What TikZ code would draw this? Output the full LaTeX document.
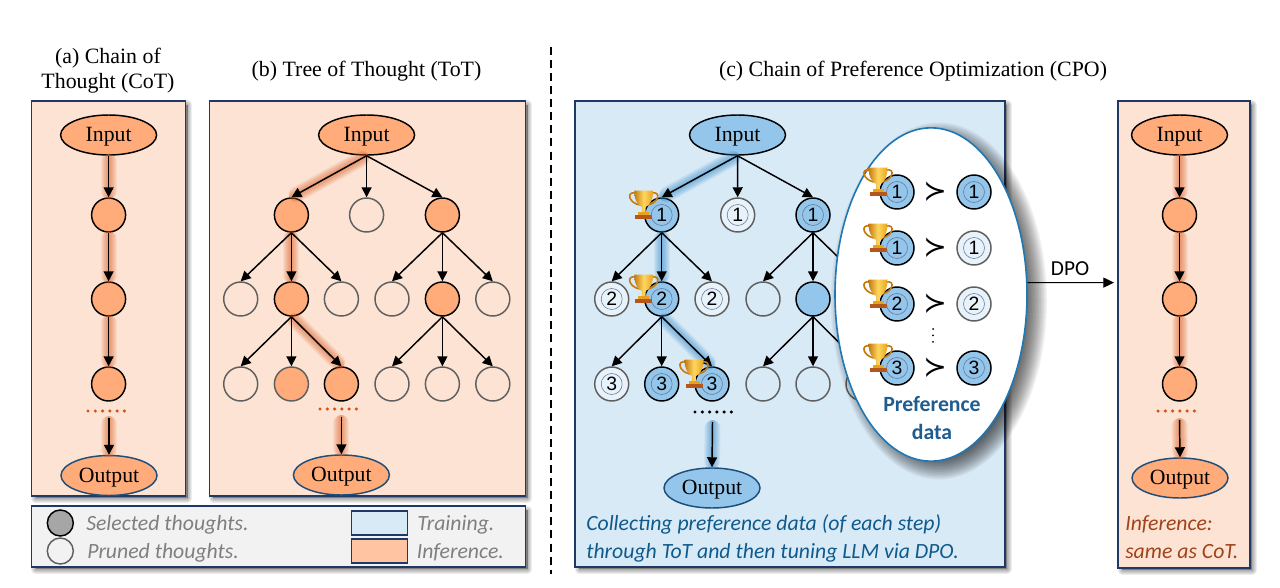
\documentclass[tikz,border=0pt]{standalone}
\usepackage{fontspec}
\setmainfont{Liberation Serif}
\newfontfamily\calib{Carlito}
\newfontfamily\helv{Liberation Sans}
\newfontfamily\symf{DejaVu Sans}
\usetikzlibrary{arrows.meta,shapes.geometric,calc}
\definecolor{orfill}{HTML}{FFAB7A}
\definecolor{orpanel}{HTML}{FDE3D3}
\definecolor{orglow}{HTML}{D9581C}
\definecolor{blfill}{HTML}{93C6EA}
\definecolor{blpanel}{HTML}{D9EAF7}
\definecolor{blglow}{HTML}{2E86C8}
\definecolor{frame}{HTML}{1F3864}
\definecolor{outedge}{HTML}{1F4E79}
\definecolor{prunedge}{HTML}{5F5F5F}
\definecolor{legbg}{HTML}{F2F2F2}
\definecolor{txtgray}{HTML}{7F7F7F}
\definecolor{txtblue}{HTML}{0F5A8C}
\definecolor{txtbrown}{HTML}{A0421A}
\definecolor{prefblue}{HTML}{1F5C8F}
\definecolor{ellblue}{HTML}{1F78B4}
\definecolor{dotor}{HTML}{D9500F}
\definecolor{golddark}{HTML}{C47A10}
\definecolor{goldmid}{HTML}{E8A21E}
\definecolor{goldlight}{HTML}{FFD760}
\definecolor{goldbase}{HTML}{B5561A}
\newcommand{\lw}[1]{\raisebox{-5.2pt}[0pt][0pt]{#1}}
\tikzset{
  x=.75pt,y=-.75pt,
  txt/.style={inner sep=0pt,font=\fontsize{16.3pt}{18pt}\selectfont},
  title/.style={inner sep=0pt,align=center,font=\fontsize{16.4pt}{18.8pt}\selectfont},
  note/.style={inner sep=0pt,anchor=west,font=\calib\itshape\fontsize{16.3pt}{18pt}\selectfont},
  endpt/.style={ellipse,minimum width=72pt,minimum height=30pt,inner sep=0pt,draw=black,line width=1.1pt,txt},
  outpt/.style={endpt,draw=outedge},
  thought/.style={circle,minimum size=25.5pt,inner sep=0pt,line width=1.1pt},
  sel/.style={thought,draw=black},
  pru/.style={thought,draw=prunedge,line width=1.1pt},
  conn/.style={line width=1.1pt,-{Triangle[length=7.5pt,width=7.5pt]},black},
  dotline/.style={line width=2.6pt,line cap=round,dash pattern=on 0pt off 5.45pt},
  ring/.style={draw=frame!70,line width=.4pt},
}
% blurred connector glow
\newcommand{\glowline}[3]{\foreach \w in {16,14,12,10,8,6,4,2}{\draw[#3,line width=\w*.75pt,opacity=.085,line cap=round,
   shorten <=\w*.375pt-1.5pt,shorten >=\w*.375pt-1.5pt] (#1) -- (#2);}}
% framed panel with soft drop shadow
\newcommand{\panel}[5]{%
  \foreach \w in {9,7,5,3,1}{\draw[black,fill=black,opacity=.07,line width=\w*.75pt,line join=round]
     ({#1+4},{#2+4}) rectangle ({#3+2},{#4+2});}
  \draw[frame,fill=#5,line width=1.2pt] (#1,#2) rectangle (#3,#4);}
% trophy
\tikzset{trophy/.pic={
  \draw[golddark,line width=1.2pt] (-8,-12) .. controls (-18,-14) and (-15,-2) .. (-4,0);
  \draw[golddark,line width=1.2pt] (8,-12) .. controls (18,-14) and (15,-2) .. (4,0);
  \shade[left color=golddark,right color=goldmid,middle color=goldlight]
     (-9.5,-14.5) -- (9.5,-14.5) .. controls (9.5,-4) and (5,1) .. (1.8,2) -- (1.8,7) -- (-1.8,7) -- (-1.8,2) .. controls (-5,1) and (-9.5,-4) .. (-9.5,-14.5) -- cycle;
  \fill[goldmid] (-5.5,7) rectangle (5.5,10);
  \fill[goldbase] (-8.5,10) rectangle (8.5,14);
}}
\newcommand{\numnode}[4]{% name, x, y, style
  \node[#4] (#1) at (#2,#3) {};
  \draw[ring] (#1) circle (10.5);
}
\newcommand{\num}[2]{\node[inner sep=0pt,font=\helv\fontsize{14.5pt}{14.5pt}\selectfont] at (#1) {#2};}
\begin{document}
\begin{tikzpicture}
\useasboundingbox (0,0) rectangle (1280,588);
\fill[white] (0,0) rectangle (1280,588);
% titles
\node[title] (ta) at (108,70.5) {(a) Chain of\\Thought (CoT)};
\node[title] (tb) at (366.5,71) {(b) Tree of Thought (ToT)};
\node[title] (tc) at (913,71) {(c) Chain of Preference Optimization (CPO)};
% divider
\coordinate (divT) at (551,47);
\coordinate (divB) at (551,574);
\draw[black,line width=1pt,dash pattern=on 6pt off 3.8pt] (divT) -- (divB);
% panels
\panel{31.5}{101}{185.5}{496}{orpanel}
\panel{209.3}{101}{525.5}{496}{orpanel}
\panel{31.5}{506}{525.5}{567}{legbg}
\panel{575}{101}{1005}{567}{blpanel}
\panel{1118}{101}{1250}{568}{orpanel}

% ---------- panel a
\node[endpt,fill=orfill] (aI) at (108.6,135) {\lw{Input}};
\node[sel,fill=orfill] (a1) at (108.6,215) {};
\node[sel,fill=orfill] (a2) at (108.6,299) {};
\node[sel,fill=orfill] (a3) at (108.6,384) {};
\node[outpt,fill=orfill] (aO) at (109,475.5) {\lw{Output}};
\coordinate (adL) at (88,411); \coordinate (adR) at (128,411);
\coordinate (aS) at (109,418);
\glowline{aI.south}{a1.north}{orglow}
\glowline{a1.south}{a2.north}{orglow}
\glowline{a2.south}{a3.north}{orglow}
\glowline{aS}{aO.north}{orglow}
\draw[dotline,dotor] (adL) -- (adR);
\draw[conn] (aI) -- (a1);
\draw[conn] (a1) -- (a2);
\draw[conn] (a2) -- (a3);
\draw[conn] (aS) -- (aO.north);

% ---------- panel b
\node[endpt,fill=orfill] (bI) at (366.6,135) {\lw{Input}};
\node[sel,fill=orfill] (b1) at (291.4,215) {};
\node[pru] (b2) at (366.6,215) {};
\node[sel,fill=orfill] (b3) at (442.4,215) {};
\node[pru] (b11) at (240.7,299) {};
\node[sel,fill=orfill] (b12) at (291.4,299) {};
\node[pru] (b13) at (341.4,299) {};
\node[pru] (b31) at (392,299) {};
\node[sel,fill=orfill] (b32) at (442.4,299) {};
\node[pru] (b33) at (492.8,299) {};
\node[pru] (b121) at (240.7,384) {};
\node[pru,fill=orfill] (b122) at (291.4,384) {};
\node[sel,fill=orfill] (b123) at (341.4,384) {};
\node[pru] (b321) at (392,384) {};
\node[pru] (b322) at (442.4,384) {};
\node[pru] (b323) at (492.8,384) {};
\node[outpt,fill=orfill] (bO) at (341.4,475) {\lw{Output}};
\coordinate (bdL) at (320,409); \coordinate (bdR) at (360,409);
\coordinate (bS) at (341.4,417);
\glowline{bI.south}{b1.north}{orglow}
\glowline{b1.south}{b12.north}{orglow}
\glowline{b12.south}{b123.north}{orglow}
\glowline{bS}{bO.north}{orglow}
\draw[dotline,dotor] (bdL) -- (bdR);
\foreach \p/\c in {bI/b1,bI/b2,bI/b3,b1/b11,b1/b12,b1/b13,b3/b31,b3/b32,b3/b33,b12/b121,b12/b122,b12/b123,b32/b321,b32/b322,b32/b323}
  {\draw[conn] (\p.south) -- (\c.north);}
\draw[conn] (bS) -- (bO.north);

% ---------- legend
\node[sel,fill=black!35,minimum size=19.5pt] (lgS) at (60.3,523) {};
\node[pru,minimum size=19.5pt] (lgP) at (60.3,551) {};
\node[note,text=txtgray] (lgSt) at (86,524.5) {Selected thoughts.};
\node[note,text=txtgray] (lgPt) at (87,552.5) {Pruned thoughts.};
\node[draw=frame,line width=1.1pt,fill=blpanel,minimum width=42pt,minimum height=18pt,inner sep=0pt] (lgT) at (379.5,523) {};
\node[draw=frame,line width=1.1pt,fill=orfill!70!white,minimum width=42pt,minimum height=18pt,inner sep=0pt] (lgI) at (379.5,551) {};
\node[note,text=txtgray] (lgTt) at (417,524.5) {Training.};
\node[note,text=txtgray] (lgIt) at (416.5,552.5) {Inference.};

% ---------- panel c
\node[endpt,fill=blfill] (cI) at (737.5,135) {\lw{Input}};
\tikzset{csel/.style={sel,fill=blfill},cpru/.style={pru,fill=white!40!blpanel}}
\numnode{c1}{661.7}{215}{csel}
\numnode{c2}{737.7}{215}{cpru}
\numnode{c3}{813}{215}{csel}
\numnode{c11}{611.7}{299}{cpru}
\numnode{c12}{661.7}{299}{csel}
\numnode{c13}{712}{299}{cpru}
\node[pru] (c31) at (763,299) {};
\node[sel,fill=blfill] (c32) at (813,299) {};
\node[pru] (c33) at (863,299) {};
\numnode{c121}{611.7}{384}{cpru}
\numnode{c122}{661.7}{384}{csel}
\numnode{c123}{712}{384}{csel}
\node[pru] (c321) at (763,384) {};
\node[pru] (c322) at (813,384) {};
\node[pru] (c323) at (863,384) {};
\node[outpt,fill=blfill] (cO) at (712,488) {\lw{Output}};
\coordinate (cdL) at (695,412); \coordinate (cdR) at (735,412);
\coordinate (cS) at (712.5,422);
\glowline{cI.south}{c1.north}{blglow}
\glowline{c1.south}{c12.north}{blglow}
\glowline{c12.south}{c123.north}{blglow}
\glowline{cS}{cO.north}{blglow}
\draw[dotline,black] (cdL) -- (cdR);
\foreach \p/\c in {cI/c1,cI/c2,cI/c3,c1/c11,c1/c12,c1/c13,c3/c31,c3/c32,c3/c33,c12/c121,c12/c122,c12/c123,c32/c321,c32/c322,c32/c323}
  {\draw[conn] (\p.south) -- (\c.north);}
\draw[conn] (cS) -- (cO.north);
\foreach \n/\d in {c1/1,c2/1,c3/1,c11/2,c12/2,c13/2,c121/3,c122/3,c123/3}{\num{\n}{\d}}
\pic at ($(c1)+(-18,-10)$) {trophy};
\pic at ($(c12)+(-18,-10)$) {trophy};
\pic at ($(c123)+(-18,-10)$) {trophy};
\node[note,text=txtblue] (cn1) at (586,524.5) {Collecting preference data (of each step)};
\node[note,text=txtblue] (cn2) at (586,552.5) {through ToT and then tuning LLM via DPO.};

% ---------- preference ellipse
\foreach \k in {0,1.5,...,24}{
  \fill[black,opacity=.055] (939,301) ellipse ({84+\k} and {154.5+\k});
}
\node[ellipse,minimum width=144pt,minimum height=250pt,inner sep=0pt,draw=ellblue,line width=1.2pt,fill=white] (pref) at (931,294.5) {};
\tikzset{psel/.style={sel,fill=blfill},pl1/.style={pru,fill=white!40!blpanel}}
\numnode{pa1}{897}{192}{psel}
\numnode{pb1}{974}{192}{psel}
\numnode{pa2}{897}{248}{psel}
\numnode{pb2}{974}{248}{pl1}
\numnode{pa3}{897}{304}{psel}
\numnode{pb3}{974}{304}{pl1}
\numnode{pa4}{897}{368}{psel}
\numnode{pb4}{974}{368}{psel}
\foreach \n/\d in {pa1/1,pb1/1,pa2/1,pb2/1,pa3/2,pb3/2,pa4/3,pb4/3}{\num{\n}{\d}}
\foreach \n in {pa1,pa2,pa3,pa4}{\pic at ($(\n)+(-19,-10)$) {trophy};}
\foreach \y/\i in {192/1,248/2,304/3,368/4}{\node[inner sep=0pt,font=\symf\fontsize{21pt}{21pt}\selectfont] (succ\i) at (935,\y) {≻};}
\coordinate (vdT) at (933,329); \coordinate (vdB) at (933,342);
\draw[black,line width=1.5pt,line cap=round,dash pattern=on 0pt off 4.8pt] (vdT) -- (vdB);
\node[inner sep=0pt,align=center,text=prefblue,font=\calib\bfseries\fontsize{16.3pt}{21pt}\selectfont] (pt) at (932,418) {Preference\\data};

% ---------- DPO arrow
\coordinate (dpoE) at (1114,282.6);
\draw[line width=.9pt,-{Triangle[length=8pt,width=7.5pt]},black] (pref.7) -- (dpoE);
\node[inner sep=0pt,font=\calib\fontsize{16pt}{16pt}\selectfont] (dpo) at (1070,268.5) {DPO};

% ---------- panel d
\node[endpt,fill=orfill] (dI) at (1179.5,135) {\lw{Input}};
\node[sel,fill=orfill] (d1) at (1179.5,215) {};
\node[sel,fill=orfill] (d2) at (1179.5,299) {};
\node[sel,fill=orfill] (d3) at (1179.5,384) {};
\node[outpt,fill=orfill] (dO) at (1180,478) {\lw{Output}};
\coordinate (ddL) at (1158,411); \coordinate (ddR) at (1198,411);
\coordinate (dS) at (1179.5,420);
\glowline{dI.south}{d1.north}{orglow}
\glowline{d1.south}{d2.north}{orglow}
\glowline{d2.south}{d3.north}{orglow}
\glowline{dS}{dO.north}{orglow}
\draw[dotline,dotor] (ddL) -- (ddR);
\draw[conn] (dI) -- (d1);
\draw[conn] (d1) -- (d2);
\draw[conn] (d2) -- (d3);
\draw[conn] (dS) -- (dO.north);
\node[note,text=txtbrown] (dn1) at (1125,524.5) {Inference:};
\node[note,text=txtbrown] (dn2) at (1125,551.5) {same as CoT.};
\end{tikzpicture}
\end{document}
